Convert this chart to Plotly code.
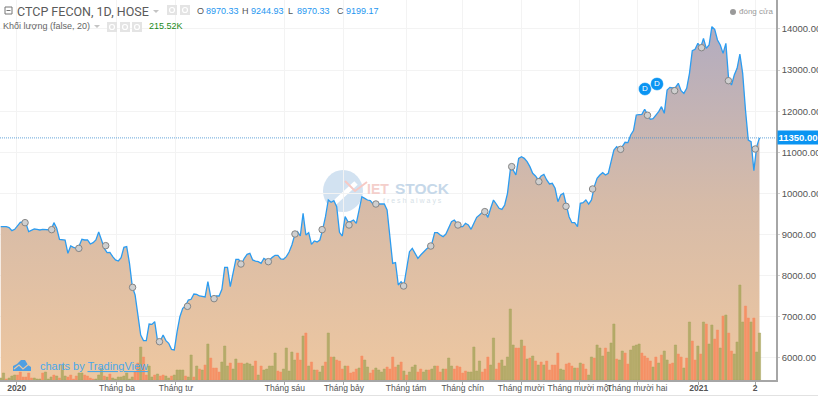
import plotly.graph_objects as go

close = [
9190,9190,9190,9166,9093,9126,9207,9296,9304,9272,
9069,9093,9134,9126,9110,9126,9126,9110,9110,9288,
9150,8882,8866,8866,8542,8720,8688,8663,8720,8882,
8866,8866,8769,8801,8866,9060,8866,8663,8558,8566,
8460,8380,8355,8436,8688,8704,8298,7731,7528,7000,
6555,6417,6417,6822,6814,6879,6417,6409,6555,6417,
6352,6206,6190,6636,7000,7204,7260,7406,7423,7552,
7544,7504,7487,7479,7852,7487,7447,7504,7504,7666,
8201,8201,7731,8055,8396,8396,8282,8420,8517,8542,
8380,8355,8339,8298,8420,8380,8380,8444,8493,8493,
8404,8396,8460,8574,8745,8988,9069,8963,9515,8988,
9045,8761,8842,8818,8866,9126,9434,9839,9783,9823,
9677,9053,8963,9434,9312,9312,9353,9272,9637,9920,
9880,9839,9823,9742,9742,9742,9758,9742,9596,8947,
8298,8315,7771,7852,7771,8177,8582,8663,8526,8420,
8501,8582,8639,8704,8785,9045,9045,8988,8947,9012,
9150,9312,9353,9272,9191,9191,9272,9231,9126,9272,
9418,9475,9539,9539,9418,9637,9839,9742,9637,9612,
9718,10002,10570,10570,10448,10853,10894,10853,10772,10651,
10488,10424,10326,10424,10464,10326,10229,10245,10124,9799,
9961,10002,9694,9434,9288,9288,9191,9759,9775,9840,
9742,9840,10164,10367,10448,10505,10448,10488,10772,11056,
11137,11072,11137,11243,11235,11421,11527,11908,11916,11924,
12046,11932,11802,11819,11908,11989,12110,11948,12516,12580,
12564,12580,12678,12499,12434,12556,12921,13472,13505,13651,
13553,13772,13529,13610,14056,13991,13732,13610,13407,13651,
12759,12637,12880,13042,13391,12921,12029,11299,11258,10553,
11137,11350,
]

volume = [
2,7,1,2,4,5,5,8,3,3,
7,2,2,1,1,7,8,1,3,5,
4,2,15,4,3,5,1,4,7,7,
5,4,2,1,1,5,12,4,3,6,
2,1,3,3,4,7,1,3,8,17,
33,23,5,14,3,5,6,4,5,4,
2,4,5,10,10,10,4,3,25,3,
14,11,10,15,36,22,12,12,8,18,
34,14,17,11,21,17,17,16,17,16,
14,19,5,14,10,11,14,14,27,9,
8,11,32,9,28,20,27,20,44,47,
14,18,10,10,8,14,18,47,23,23,
20,19,11,14,14,7,8,11,12,24,
20,13,7,10,12,10,8,11,13,11,
23,13,15,18,9,5,8,13,15,8,
11,8,10,10,11,14,14,8,11,11,
22,14,11,14,13,7,9,8,8,33,
9,19,8,11,23,15,42,11,17,20,
14,23,71,35,32,32,40,34,21,22,
24,19,15,18,15,19,10,15,15,27,
11,10,16,17,14,12,12,17,16,11,
5,23,22,35,32,24,32,28,37,56,
21,20,29,27,16,30,34,35,36,27,
24,22,19,13,23,17,25,29,20,16,
17,35,26,23,12,22,58,39,20,34,
26,58,56,36,55,41,50,32,64,65,
47,29,26,38,95,58,74,62,58,62,
28,47,
]

is_up = [
1,1,0,1,1,1,0,0,0,0,
0,0,1,1,1,0,1,1,1,0,
1,0,1,1,0,0,0,0,1,1,
0,0,0,0,1,1,1,0,1,0,
1,1,1,1,1,1,1,1,0,0,
1,0,0,1,1,0,1,0,0,1,
1,0,1,1,1,1,0,1,1,0,
1,0,1,0,1,0,0,0,0,1,
1,1,0,1,1,0,0,1,1,1,
1,0,1,0,1,1,1,1,1,0,
0,1,1,1,1,1,0,0,1,0,
1,0,1,0,1,1,0,1,0,1,
0,0,0,1,0,0,0,0,1,0,
1,1,0,0,1,1,1,1,0,0,
0,0,1,0,1,0,1,1,1,0,
0,1,1,0,1,1,0,0,1,0,
1,1,0,0,0,0,0,1,1,1,
1,1,0,0,0,1,1,0,0,1,
1,1,1,1,0,0,1,0,1,0,
1,0,1,0,1,0,0,0,0,0,
1,1,0,0,0,1,0,1,0,0,
1,1,0,1,1,1,0,1,1,1,
0,1,1,0,0,1,1,1,1,0,
0,0,0,1,0,1,0,1,1,0,
0,1,0,0,1,0,1,0,0,1,
0,1,0,1,1,0,0,1,0,1,
0,0,1,1,1,1,0,0,1,0,
1,1,
]

event_x = [8.7,18.2,27.9,37.5,47.1,56.7,66.7,76.2,85.8,95.6,105.1,114.8,124.4,134,
           143.9,153.6,163.3,172.9,182.5,192.2,201.9,211.4,221.4,231,240.7,250.3,259.9,269.5]
event_y = [9288,9118,8663,8728,7714,6392,7252,7439,8282,8339,9012,9118,9231,9742,
           7747,8720,9231,9556,10651,10286,9686,10107,11072,11900,12499,13545,12742,11080]

badge_x = [230.1,234.4]
badge_y = [12540,12662]

tick_pos = [5.7,41.5,62.6,101.5,122.6,144.8,165,185.9,206.6,227.3,249.3,269.4]
tick_text = ["<b>2020</b>","Tháng ba","Tháng tư","Tháng sáu","Tháng bảy","Tháng tám","Tháng chín",
             "Tháng mười","Tháng mười một","Tháng mười hai","<b>2021</b>","<b>2</b>"]
price_ticks = [6000,7000,8000,9000,10000,11000,12000,13000,14000]
last_price = 11350

W, H = 776, 380
FONT = "Liberation Sans, Arial, sans-serif"
xs = list(range(len(close)))

def px(x): return x / W
def py(y): return 1 - y / H

fig = go.Figure()
fig.add_trace(go.Scatter(
    x=xs, y=close, mode="lines", line=dict(color="#2c9cf0", width=1.3),
    fill="tozeroy",
    fillgradient=dict(type="vertical", start=5460, stop=14100,
                      colorscale=[[0, "rgb(238,199,160)"], [0.5, "rgb(214,187,168)"], [1, "rgb(178,172,192)"]]),
    hoverinfo="skip", showlegend=False))
fig.add_trace(go.Scatter(
    x=event_x, y=event_y, mode="markers",
    marker=dict(size=6.5, color="#cfcfcf", line=dict(color="#858585", width=1)),
    hoverinfo="skip", showlegend=False))
fig.add_trace(go.Scatter(
    x=badge_x, y=badge_y, mode="markers+text", text=["D", "D"], textposition="middle center",
    textfont=dict(color="white", size=8, family=FONT),
    marker=dict(size=13, color="#0a94f2", line=dict(color="white", width=0.5)),
    hoverinfo="skip", showlegend=False))
fig.add_trace(go.Bar(
    x=xs, y=volume, yaxis="y2", width=0.8,
    marker=dict(color=["rgba(176,167,100,0.9)" if u else "rgba(247,138,92,0.88)" for u in is_up],
                line=dict(color=["#a7a75f" if u else "#f58f66" for u in is_up], width=0.5)),
    hoverinfo="skip", showlegend=False))

fig.update_layout(
    width=818, height=396, autosize=False,
    margin=dict(l=0, r=42, t=0, b=16, autoexpand=False),
    paper_bgcolor="white", plot_bgcolor="white",
    font=dict(family=FONT, color="#555555", size=10),
    bargap=0.2,
    xaxis=dict(range=[-0.25, 276.9], tickmode="array", tickvals=tick_pos, ticktext=tick_text,
               showgrid=True, gridcolor="#f3f3f3", gridwidth=1, zeroline=False, tickangle=0, automargin=False,
               showline=True, linecolor="#a6a6a6", linewidth=2, ticklabelstandoff=-4,
               ticks="outside", ticklen=3, tickcolor="#a6a6a6", tickfont=dict(size=8.5, color="#555555"),
               fixedrange=True),
    yaxis=dict(range=[5460, 14705], side="right", tickmode="array", tickvals=price_ticks, automargin=False,
               ticktext=[f"{v}.00" for v in price_ticks], showgrid=True, gridcolor="#f3f3f3",
               zeroline=False, showline=True, linecolor="#a6a6a6", linewidth=1.5,
               ticks="outside", ticklen=2, tickcolor="#d0d0d0", tickfont=dict(size=9.5, color="#555555"),
               fixedrange=True),
    yaxis2=dict(range=[0, 380], overlaying="y", side="right", visible=False, fixedrange=True),
)

shapes = [
    # price line
    dict(type="line", xref="paper", x0=0, x1=1, yref="y", y0=last_price, y1=last_price,
         line=dict(color="#3f8fd0", width=0.8, dash="1px,1px"), layer="above"),
    # bottom strip
    dict(type="line", xref="paper", yref="paper", x0=0, x1=818 / W, y0=py(395.5), y1=py(395.5),
         line=dict(color="#e2e2e2", width=1)),
    # watermark circle
    dict(type="circle", xref="paper", yref="paper", layer="below",
         x0=px(323), x1=px(363), y0=py(212), y1=py(170), fillcolor="#d2e2f1", line_width=0),
    dict(type="line", xref="paper", yref="paper", layer="below",
         x0=px(330), x1=px(356), y0=py(207), y1=py(183), line=dict(color="white", width=5)),
    dict(type="path", xref="paper", yref="paper", layer="below", line=dict(color="#f6c9c4", width=2),
         path=f"M {px(345)},{py(181)} L {px(355)},{py(191)} L {px(367)},{py(182)}"),
    # collapse box
    dict(type="rect", xref="paper", yref="paper", x0=px(5), x1=px(12), y0=py(14), y1=py(7),
         line=dict(color="#777777", width=1), fillcolor="white"),
    dict(type="line", xref="paper", yref="paper", x0=px(6.5), x1=px(10.5), y0=py(10.5), y1=py(10.5),
         line=dict(color="#777777", width=1)),
]
# header icon boxes
for x0, y0, sz in [(167, 5, 10), (180, 5, 10), (107, 22, 10), (120, 22, 10), (132, 22, 10)]:
    shapes.append(dict(type="rect", xref="paper", yref="paper", x0=px(x0), x1=px(x0 + sz),
                       y0=py(y0 + sz), y1=py(y0), fillcolor="#e4e4e4", line_width=0))
    shapes.append(dict(type="circle", xref="paper", yref="paper", x0=px(x0 + 2.5), x1=px(x0 + sz - 2.5),
                       y0=py(y0 + sz - 2.5), y1=py(y0 + 2.5), fillcolor="rgba(0,0,0,0)",
                       line=dict(color="white", width=1.2)))
# little dropdown triangles
for x0, y0 in [(153, 10), (94, 25)]:
    shapes.append(dict(type="path", xref="paper", yref="paper", fillcolor="#c4c4c4", line_width=0,
                       path=f"M {px(x0)},{py(y0)} L {px(x0 + 6)},{py(y0)} L {px(x0 + 3)},{py(y0 + 3)} Z"))
# TradingView cloud
shapes.append(dict(type="path", xref="paper", yref="paper", fillcolor="#4f9fe2", line_width=0,
    path=(f"M {px(13)},{py(371)} L {px(13)},{py(366)} L {px(17)},{py(364)} L {px(21)},{py(360)} L {px(25)},{py(360)} "
          f"L {px(28)},{py(365)} L {px(31)},{py(367)} L {px(31)},{py(371)} Z")))
shapes.append(dict(type="path", xref="paper", yref="paper", line=dict(color="#eac7a3", width=1.2),
    path=f"M {px(14)},{py(369)} L {px(19)},{py(365)} L {px(23)},{py(369)} L {px(29)},{py(364)}"))
# circle next to "đóng cửa"
shapes.append(dict(type="circle", xref="paper", yref="paper", x0=px(730), x1=px(736), y0=py(15), y1=py(9),
                   fillcolor="#9a9a9a", line_width=0))
fig.update_layout(shapes=shapes)

def note(x, y, text, size=10, color="#555555", family=FONT):
    fig.add_annotation(xref="paper", yref="paper", x=px(x), y=py(y), text=text, showarrow=False,
                       xanchor="left", yanchor="middle", align="left",
                       font=dict(size=size, color=color, family=family), borderpad=0, borderwidth=0)

note(17, 11.5, "CTCP FECON, 1D, HOSE", size=12.5, color="#5a5a5a", family="Roboto, Liberation Sans, sans-serif")
note(3, 26.5, "Khối lượng (false, 20)", size=9, color="#666666")
note(149, 26.5, "215.52K", size=9, color="#1a8a1a")
ohlc = [(197, "O", "8970.33"), (242, "H", "9244.93"), (288, "L", "8970.33"), (337, "C", "9199.17")]
for x, k, v in ohlc:
    note(x, 11, k, size=9, color="#555555")
    note(x + 9, 11, v, size=9, color="#1e96f0")
note(739, 12, "đóng cửa", size=8, color="#9a9a9a")

# watermark text
note(367, 189, "<b>IET</b>", size=14, color="#f4cfcb")
note(395, 188, "<b>STOCK</b>", size=15.5, color="#c6d8e9")
note(383, 201, "f r e s h  a l w a y s", size=7, color="#d6dfe7")

# TradingView credit
note(40, 365.5, "charts by <u>TradingView</u>", size=11, color="#4aa8ea")

# last-price label
fig.add_annotation(xref="paper", yref="y", x=1.0013, y=last_price, text="<b>11350.00</b>", showarrow=False,
                   xanchor="left", yanchor="middle", width=40, height=13, bgcolor="#0a94f2",
                   font=dict(size=9.5, color="white", family=FONT), borderpad=0)

fig.write_html("out.html", config={"displayModeBar": False},
               post_script="document.body.style.margin='0';document.documentElement.style.overflow='hidden';")
